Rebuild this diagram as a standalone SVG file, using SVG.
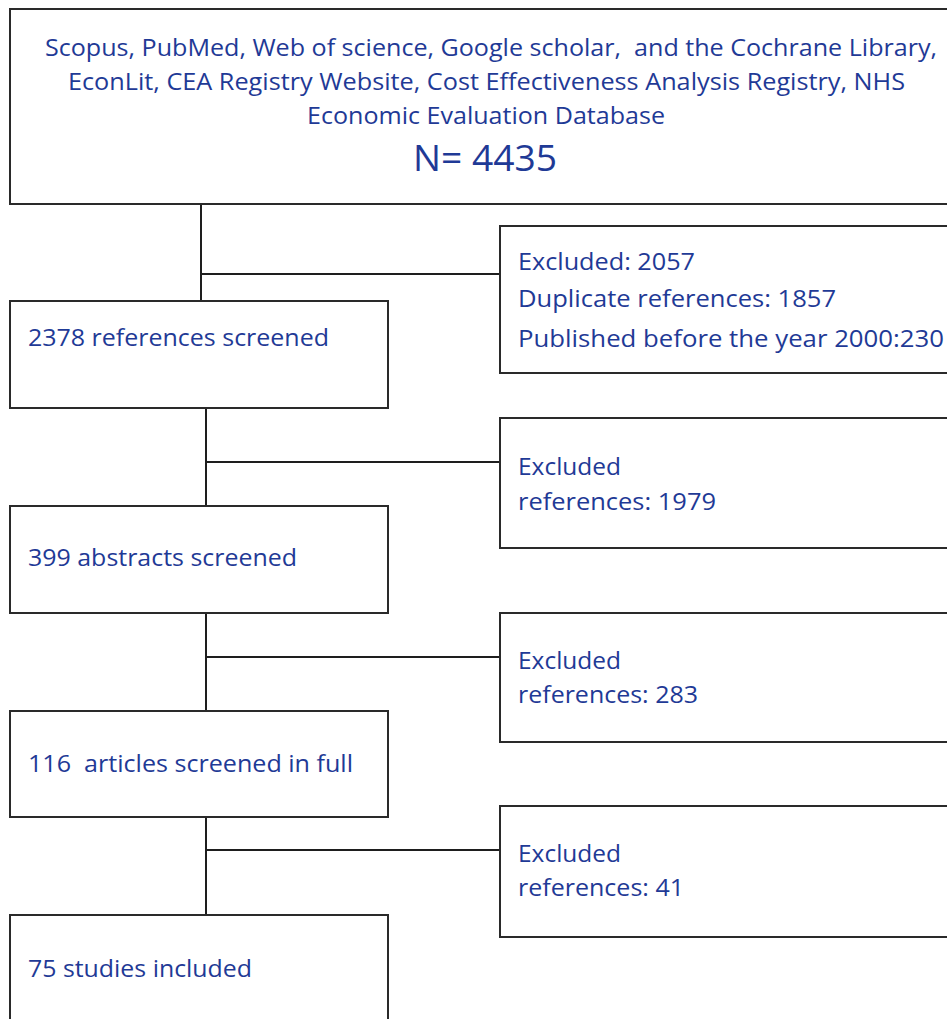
<svg xmlns="http://www.w3.org/2000/svg" width="947" height="1019" viewBox="0 0 947 1019">
<style>
.box{fill:#ffffff;stroke:#2a2a2a;stroke-width:2}
.ln{stroke:#1e1e1e;stroke-width:2;fill:none}
.t{font-family:"Open Sans","Noto Sans",sans-serif;font-size:24px;fill:#1f3a96;white-space:pre}
.m{text-anchor:middle}
.big{font-size:37px}
</style>
<rect x="0" y="0" width="947" height="1019" fill="#ffffff"/>
<g id="connectors">
<line class="ln" x1="201" y1="204" x2="201" y2="301"/>
<line class="ln" x1="201" y1="274" x2="500" y2="274"/>
<line class="ln" x1="206" y1="408" x2="206" y2="506"/>
<line class="ln" x1="206" y1="462" x2="500" y2="462"/>
<line class="ln" x1="206" y1="613" x2="206" y2="711"/>
<line class="ln" x1="206" y1="657" x2="500" y2="657"/>
<line class="ln" x1="206" y1="817" x2="206" y2="915"/>
<line class="ln" x1="206" y1="850" x2="500" y2="850"/>
</g>
<g id="sources">
<rect class="box" x="10" y="9" width="960" height="195"/>
<text class="t m" x="491" y="56" textLength="892" lengthAdjust="spacingAndGlyphs" xml:space="preserve">Scopus, PubMed, Web of science, Google scholar,  and the Cochrane Library,</text>
<text class="t m" x="486.5" y="90" textLength="837" lengthAdjust="spacingAndGlyphs">EconLit, CEA Registry Website, Cost Effectiveness Analysis Registry, NHS</text>
<text class="t m" x="486" y="124" textLength="358" lengthAdjust="spacingAndGlyphs">Economic Evaluation Database</text>
<text class="t m big" x="485" y="171" textLength="144" lengthAdjust="spacingAndGlyphs">N= 4435</text>
</g>
<g id="excluded1">
<rect class="box" x="500" y="226" width="470" height="147"/>
<text class="t" x="518" y="270" textLength="177" lengthAdjust="spacingAndGlyphs">Excluded: 2057</text>
<text class="t" x="518" y="307" textLength="318" lengthAdjust="spacingAndGlyphs">Duplicate references: 1857</text>
<text class="t" x="518" y="347" textLength="426" lengthAdjust="spacingAndGlyphs">Published before the year 2000:230</text>
</g>
<g id="screened">
<rect class="box" x="10" y="301" width="378" height="107"/>
<text class="t" x="28" y="346" textLength="301" lengthAdjust="spacingAndGlyphs">2378 references screened</text>
</g>
<g id="excluded2">
<rect class="box" x="500" y="418" width="470" height="130"/>
<text class="t" x="518" y="475" textLength="103" lengthAdjust="spacingAndGlyphs">Excluded</text>
<text class="t" x="518" y="510" textLength="198" lengthAdjust="spacingAndGlyphs">references: 1979</text>
</g>
<g id="abstracts">
<rect class="box" x="10" y="506" width="378" height="107"/>
<text class="t" x="28" y="566" textLength="269" lengthAdjust="spacingAndGlyphs">399 abstracts screened</text>
</g>
<g id="excluded3">
<rect class="box" x="500" y="613" width="470" height="129"/>
<text class="t" x="518" y="669" textLength="103" lengthAdjust="spacingAndGlyphs">Excluded</text>
<text class="t" x="518" y="703" textLength="180" lengthAdjust="spacingAndGlyphs">references: 283</text>
</g>
<g id="fulltext">
<rect class="box" x="10" y="711" width="378" height="106"/>
<text class="t" x="28" y="772" textLength="325" lengthAdjust="spacingAndGlyphs" xml:space="preserve">116  articles screened in full</text>
</g>
<g id="excluded4">
<rect class="box" x="500" y="806" width="470" height="131"/>
<text class="t" x="518" y="862" textLength="103" lengthAdjust="spacingAndGlyphs">Excluded</text>
<text class="t" x="518" y="896" textLength="166" lengthAdjust="spacingAndGlyphs">references: 41</text>
</g>
<g id="included">
<rect class="box" x="10" y="915" width="378" height="120"/>
<text class="t" x="28" y="977" textLength="224" lengthAdjust="spacingAndGlyphs">75 studies included</text>
</g>
</svg>
